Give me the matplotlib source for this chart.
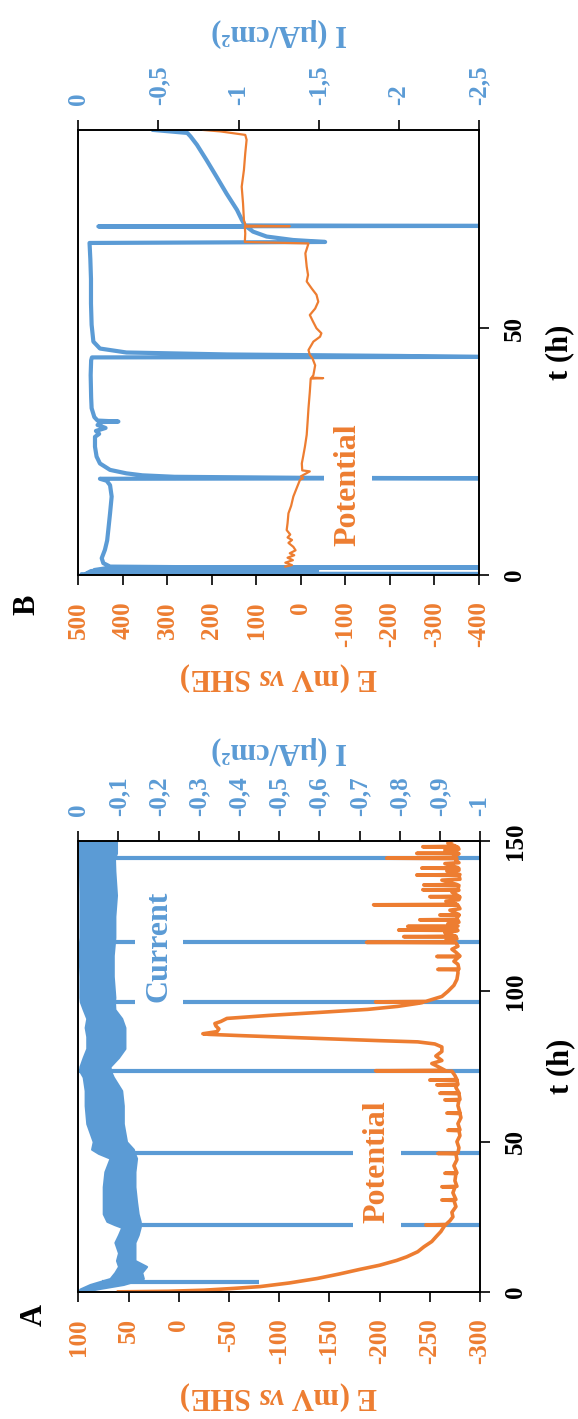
import matplotlib.pyplot as plt

plt.rcParams['font.family'] = ['Liberation Serif', 'DejaVu Serif']
plt.rcParams['font.weight'] = 'bold'
plt.rcParams['axes.labelweight'] = 'bold'
plt.rcParams['axes.unicode_minus'] = False
plt.rcParams['mathtext.fontset'] = 'custom'
plt.rcParams['mathtext.rm'] = 'Liberation Serif:bold'
plt.rcParams['mathtext.it'] = 'Liberation Serif:italic:bold'
plt.rcParams['axes.linewidth'] = 1.2

ORANGE = '#ED7D31'
BLUE = '#5B9BD5'

# ---------------- panel A ----------------
# current band (noisy trace shown as its envelope), I in uA/cm2
t_band_A = [0, 1.0, 2.5, 4.5, 6.5, 8.5, 10.5, 13, 16.5, 19,
            21.5, 22.4, 23.5, 26, 30, 35, 40, 44.5, 46.1, 47.5,
            50, 56, 62, 67, 71.5, 73.6, 75, 78, 81, 85,
            88, 91, 94, 96.5, 98, 105, 112, 116.4, 118, 125,
            132, 140, 144.2, 146, 150]
I_lo_A = [0, -0.004, -0.029, -0.079, -0.091, -0.100, -0.095, -0.100, -0.091, -0.100,
          -0.108, -0.09, -0.071, -0.062, -0.062, -0.062, -0.066, -0.079, -0.05, -0.033,
          -0.037, -0.021, -0.017, -0.017, -0.012, -0.003, -0.004, -0.012, -0.021, -0.021,
          -0.017, -0.021, -0.012, -0.005, -0.004, -0.004, -0.002, -0.003, -0.004, -0.004,
          -0.004, -0.003, -0.003, -0.003, -0.002]
I_hi_A = [-0.01, -0.046, -0.112, -0.162, -0.158, -0.170, -0.141, -0.141, -0.141, -0.149,
          -0.154, -0.155, -0.154, -0.149, -0.145, -0.141, -0.141, -0.145, -0.14, -0.137,
          -0.12, -0.112, -0.112, -0.108, -0.087, -0.08, -0.079, -0.100, -0.116, -0.116,
          -0.116, -0.108, -0.091, -0.09, -0.091, -0.087, -0.087, -0.09, -0.091, -0.091,
          -0.095, -0.091, -0.09, -0.095, -0.095]
# current spikes
spike_t_A = [3.2, 22.4, 46.1, 73.6, 96.5, 116.4, 144.2]
spike_from_A = [-0.06, -0.15, -0.14, 0.0, -0.09, -0.09, -0.09]
spike_to_A = [-0.45, -1, -1, -1, -1, -1, -1]

# potential, mV vs SHE
t_E_A = [0.05, 0.25, 0.6, 1.2, 1.8, 3.0, 4.5, 6.0, 7.5, 8.9,
         10.5, 11.7, 13.4, 15.0, 16.8, 18.3, 20.1, 21.7, 22.2, 22.3,
         22.45, 23.7, 25.0, 26.5, 28.4, 30.45, 30.6, 30.75, 33.0, 34.85,
         35.0, 35.15, 37.0, 39.35, 39.5, 39.65, 42.0, 44.0, 45.95, 46.1,
         46.25, 48.0, 50.0, 52.0, 53.65, 53.8, 53.95, 56.0, 58.0, 59.35,
         59.5, 59.65, 62.0, 63.75, 63.9, 64.05, 65.95, 66.1, 66.25, 68.0,
         68.75, 68.9, 69.05, 70.35, 70.5, 70.65, 72.0, 73.45, 73.6, 73.75,
         75.0, 76.0, 77.0, 78.5, 80.0, 81.5, 82.5, 83.2, 83.6, 84.2,
         84.8, 85.3, 85.7, 85.9, 86.2, 86.6, 87.5, 88.5, 89.3, 90.0,
         91.0, 92.0, 93.0, 94.0, 95.0, 96.0, 96.35, 96.5, 96.65, 98.3,
         100.0, 102.0, 104.0, 106.0, 107.15, 107.3, 107.45, 109.0, 110.0, 111.45,
         111.6, 111.75, 113.0, 114.0, 115.0, 116.15, 116.3, 116.45, 117.0, 117.5,
         118.05, 118.2, 118.35, 119.5, 120.25, 120.4, 120.55, 121.45, 121.6, 121.75,
         122.5, 123.0, 123.65, 123.8, 123.95, 125.25, 125.4, 125.55, 127.0, 127.5,
         128.65, 128.8, 128.95, 130.0, 130.5, 131.35, 131.5, 131.65, 133.0, 133.65,
         133.8, 133.95, 135.25, 135.4, 135.55, 137.0, 137.3, 138.55, 138.7, 138.85,
         140.0, 140.3, 140.85, 141.0, 141.15, 142.5, 142.8, 143.5, 144.15, 144.3,
         144.45, 145.75, 145.9, 146.05, 147.0, 147.3, 147.95, 148.1, 148.25, 149.3,
         150.0]
E_A = [60, 10, -25, -55, -81, -110, -138, -160, -180, -200,
       -217, -227, -238, -244, -252, -256, -261, -264, -265, -246,
       -266, -270, -273, -272, -276, -274, -262, -276, -273, -275,
       -262, -277, -275, -276, -265, -277, -274, -277, -276, -258,
       -278, -279, -277, -280, -279, -268, -280, -278, -281, -280,
       -267, -280, -278, -279, -265, -280, -279, -260, -279, -276,
       -277, -257, -278, -277, -250, -277, -275, -272, -196, -265,
       -258, -252, -262, -256, -262, -262, -255, -238, -200, -150,
       -100, -60, -30, -24, -30, -38, -40, -37, -36, -42,
       -48, -90, -140, -188, -218, -238, -243, -196, -246, -262,
       -268, -274, -277, -278, -278, -258, -279, -278, -274, -279,
       -257, -280, -276, -272, -278, -276, -187, -272, -266, -277,
       -276, -224, -276, -265, -278, -219, -277, -276, -228, -278,
       -268, -279, -278, -240, -276, -279, -260, -279, -270, -280,
       -278, -194, -277, -266, -279, -280, -250, -279, -272, -279,
       -243, -278, -279, -244, -277, -262, -280, -279, -237, -280,
       -267, -279, -279, -242, -278, -265, -279, -276, -277, -207,
       -272, -279, -237, -278, -265, -279, -278, -243, -276, -268,
       -272]

# ---------------- panel B ----------------
t_I_B = [0.0, 0.15, 0.2, 0.3, 0.8, 0.9, 1.0, 1.4, 1.5, 1.6,
         1.7, 2.4, 3.4, 5.1, 7.0, 9.1, 12.5, 15.9, 18.2, 19.1,
         19.5, 19.6, 19.7, 19.9, 20.2, 20.6, 21.3, 22.6, 24.0, 26.0,
         28.0, 28.6, 29.2, 29.8, 30.4, 31.0, 31.1, 31.3, 32.0, 33.8,
         36.0, 40.5, 43.5, 44.1, 44.2, 44.4, 44.7, 45.1, 45.9, 47.3,
         50.7, 55.0, 60.0, 64.0, 67.3, 67.5, 67.9, 68.6, 69.6, 70.6,
         70.65, 70.75, 70.85, 72.0, 74.0, 77.3, 80.7, 84.1, 87.2, 88.9,
         89.6, 90.2]
I_B = [-0.02, -0.02, -2.5, -0.05, -0.08, -1.49, -0.1, -0.18, -2.5, -0.6,
       -0.198, -0.156, -0.146, -0.166, -0.18, -0.187, -0.198, -0.208, -0.198, -0.177,
       -0.135, -2.5, -1.4, -0.6, -0.4, -0.30, -0.198, -0.135, -0.114, -0.104,
       -0.104, -0.13, -0.11, -0.17, -0.12, -0.15, -0.25, -0.12, -0.10, -0.083,
       -0.08, -0.077, -0.08, -0.085, -2.5, -2.0, -0.93, -0.30, -0.135, -0.094,
       -0.083, -0.079, -0.079, -0.075, -0.07, -1.54, -1.34, -1.175, -1.09, -1.05,
       -0.125, -2.5, -1.04, -1.02, -0.99, -0.925, -0.863, -0.80, -0.74, -0.70,
       -0.68, -0.47]

t_E_B = [1.7, 2.0, 2.5, 3.0, 3.5, 4.0, 4.4, 5.0, 5.7, 6.5,
         7.1, 7.6, 8.2, 9.1, 10.5, 12.5, 14.0, 15.9, 17.5, 19.3,
         19.6, 20.0, 21.0, 21.2, 22.6, 24.0, 26.0, 28.4, 31.0, 33.8,
         37.1, 39.8, 39.9, 40.0, 40.5, 42.5, 43.9, 44.6, 45.6, 47.3,
         48.3, 49.0, 50.0, 51.4, 52.7, 54.0, 55.4, 56.8, 58.1, 59.5,
         60.8, 62.5, 65.2, 67.2, 67.5, 69.2, 70.6, 70.7, 70.8, 71.9,
         75.3, 78.7, 82.1, 85.5, 88.2, 89.2, 89.9, 90.2]
E_B = [35, 20, 35, 18, 30, 15, 25, 12, 17, 28,
       20, 30, 24, 32, 30, 28, 22, 17, 10, 2,
       -5, 0, -20, -3, -2, -5, -9, -13, -15, -17,
       -20, -22, -50, -24, -28, -32, -26, -20, -17, -28,
       -43, -46, -35, -27, -20, -32, -39, -35, -24, -13,
       -16, -13, -10, -17, 126, 125, 126, 25, 124, 128,
       130, 133, 128, 125, 122, 125, 180, 219]

# axis ticks
t_ticks_A = [0, 50, 100, 150]
t_ticks_B = [0, 50]
E_ticks_A = [100, 50, 0, -50, -100, -150, -200, -250, -300]
E_ticks_B = [500, 400, 300, 200, 100, 0, -100, -200, -300, -400]
I_ticks_A = [0, -0.1, -0.2, -0.3, -0.4, -0.5, -0.6, -0.7, -0.8, -0.9, -1]
I_labels_A = ['0', '-0,1', '-0,2', '-0,3', '-0,4', '-0,5', '-0,6', '-0,7', '-0,8', '-0,9', '-1']
I_ticks_B = [0, -0.5, -1, -1.5, -2, -2.5]
I_labels_B = ['0', '-0,5', '-1', '-1,5', '-2', '-2,5']


fig = plt.figure(figsize=(5.78, 14.19), dpi=100)


def make_panel(rect, t_max, t_ticks, e_lim, e_ticks, i_lim, i_ticks, i_labels, e_pad, i_pad):
    ax_i = fig.add_axes(rect)
    ax_e = ax_i.twiny()  # potential drawn on top of current

    ax_i.set_ylim(0, t_max)
    ax_i.set_xlim(*i_lim)
    ax_i.xaxis.tick_top()
    ax_i.xaxis.set_label_position('top')
    ax_i.set_xticks(i_ticks, i_labels)
    ax_i.yaxis.tick_right()
    ax_i.yaxis.set_label_position('right')
    ax_i.set_yticks(t_ticks, [str(v) for v in t_ticks])
    ax_i.tick_params(axis='x', direction='out', length=7, width=1.2, labelsize=18,
                     labelcolor=BLUE, labelrotation=90, pad=11)
    ax_i.tick_params(axis='y', direction='out', length=7, width=1.2, labelsize=18,
                     labelrotation=90, pad=10)
    for lab in ax_i.get_yticklabels():
        lab.set_va('center')
    ax_i.set_xlabel('I (μA/cm²)', color=BLUE, fontsize=22, rotation=180, labelpad=i_pad)
    ax_i.set_ylabel('t (h)', fontsize=22, rotation=90, labelpad=14)

    ax_e.set_xlim(*e_lim)
    ax_e.xaxis.tick_bottom()
    ax_e.xaxis.set_label_position('bottom')
    ax_e.set_xticks(e_ticks, [str(v) for v in e_ticks])
    ax_e.tick_params(axis='x', direction='out', length=7, width=1.2, labelsize=18,
                     labelcolor=ORANGE, labelrotation=90, pad=12)
    ax_e.set_xlabel(r'E (mV $\mathit{vs}$ SHE)', color=ORANGE, fontsize=22,
                    rotation=180, labelpad=e_pad)
    for lab in ax_i.get_xticklabels() + ax_i.get_yticklabels() + ax_e.get_xticklabels():
        lab.set_fontweight('bold')
    return ax_i, ax_e


# panel A
axA_i, axA_e = make_panel([0.1355, 0.0895, 0.6950, 0.3178], 150, t_ticks_A,
                          (100, -300), E_ticks_A, (0, -1), I_ticks_A, I_labels_A, 11, 13)
axA_i.fill_betweenx(t_band_A, I_lo_A, I_hi_A, color=BLUE, lw=1.5)
axA_i.hlines(spike_t_A, spike_from_A, spike_to_A, color=BLUE, lw=3)
axA_e.plot(E_A, t_E_A, color=ORANGE, lw=2.6)
axA_e.text(-197, 43.4, 'Potential', rotation=90, color=ORANGE, fontsize=23,
           ha='center', va='center', zorder=5,
           bbox=dict(facecolor='white', edgecolor='none', pad=7))
axA_e.text(19.6, 115.1, 'Current', rotation=90, color=BLUE, fontsize=23,
           ha='center', va='center', zorder=5,
           bbox=dict(facecolor='white', edgecolor='none', pad=7))

# panel B
axB_i, axB_e = make_panel([0.1355, 0.5948, 0.6932, 0.3136], 90.2, t_ticks_B,
                          (500, -400), E_ticks_B, (0, -2.5), I_ticks_B, I_labels_B, 9, 18)
axB_i.plot(I_B, t_I_B, color=BLUE, lw=3)
axB_e.plot(E_B, t_E_B, color=ORANGE, lw=1.6)
axB_e.text(-106, 18.3, 'Potential', rotation=90, color=ORANGE, fontsize=23,
           ha='center', va='center', zorder=5,
           bbox=dict(facecolor='white', edgecolor='none', pad=7))

fig.text(0.060, 0.0733, 'A', rotation=90, fontsize=22, ha='center', va='center')
fig.text(0.047, 0.5736, 'B', rotation=90, fontsize=22, ha='center', va='center')

fig.savefig('out.png', dpi=100)
